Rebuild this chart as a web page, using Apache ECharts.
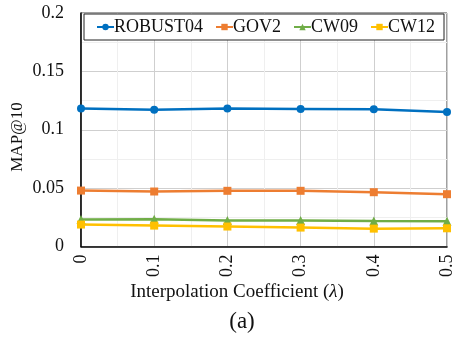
<!DOCTYPE html>
<html>
<head>
<meta charset="utf-8">
<script src="https://cdn.jsdelivr.net/npm/echarts@6/dist/echarts.min.js"></script>
<style>
html,body{margin:0;padding:0;background:#fff;}
#c{width:456px;height:339px;}
</style>
</head>
<body>
<div id="c"></div>
<script>
const lambdas = [0, 0.1, 0.2, 0.3, 0.4, 0.5];
const robust04 = [0.1181, 0.1172, 0.1181, 0.1178, 0.1175, 0.1153];
const gov2 = [0.0479, 0.0471, 0.0477, 0.0477, 0.0465, 0.0448];
const cw09 = [0.0231, 0.0234, 0.0223, 0.0223, 0.0219, 0.0217];
const cw12 = [0.0188, 0.0179, 0.0171, 0.0162, 0.0153, 0.0156];
const seriesNames = ['ROBUST04', 'GOV2', 'CW09', 'CW12'];
const colors = ['#0070C0', '#ED7D31', '#70AD47', '#FFC000'];
const symbols = ['circle', 'rect', 'triangle', 'rect'];
const yAxisTitle = 'MAP@10';
const xAxisTitleMain = 'Interpolation Coefficient (';
const xAxisTitleSym = '\u03BB';
const caption = '(a)';

const font = '"Liberation Serif", "Times New Roman", serif';
const allData = [robust04, gov2, cw09, cw12];

const chart = echarts.init(document.getElementById('c'), null, {renderer: 'canvas'});
chart.setOption({
  animation: false,
  backgroundColor: '#fff',
  textStyle: {fontFamily: font},
  grid: {left: 81, right: 8, top: 13, bottom: 92.5, show: true, borderColor: '#404040', borderWidth: 1, backgroundColor: 'transparent'},
  legend: {
    data: seriesNames,
    left: 84, top: 14,
    itemGap: 12,
    itemWidth: 17, itemHeight: 8,
    padding: [4, 9, 4, 12],
    borderColor: '#222', borderWidth: 1, backgroundColor: '#fff',
    textStyle: {fontFamily: font, fontSize: 18, color: '#111', padding: [0,0,0,-5]}
  },
  xAxis: {
    type: 'value', min: 0, max: 0.5, interval: 0.1,
    axisLine: {show: true, onZero: false, lineStyle: {color: '#000', width: 1.5}},
    axisTick: {show: false},
    axisLabel: {rotate: 90, margin: 8, fontFamily: font, fontSize: 18, color: '#111'},
    splitLine: {show: true, lineStyle: {color: '#cfcfcf', width: 1}},
    minorTick: {show: false, splitNumber: 2},
    minorSplitLine: {show: true, lineStyle: {color: '#efefef', width: 1}}
  },
  yAxis: {
    type: 'value', min: 0, max: 0.2, interval: 0.05,
    axisLine: {show: true, lineStyle: {color: '#000', width: 1.5}},
    axisTick: {show: false},
    axisLabel: {margin: 17, fontFamily: font, fontSize: 18, color: '#111'},
    splitLine: {show: true, lineStyle: {color: '#cfcfcf', width: 1}},
    minorTick: {show: false, splitNumber: 2},
    minorSplitLine: {show: true, lineStyle: {color: '#efefef', width: 1}}
  },
  graphic: [
    {type: 'text', x: 18, y: 137, rotation: Math.PI/2, style: {text: yAxisTitle, font: '17px ' + font, fill: '#111', align: 'center', verticalAlign: 'middle', x: 0, y: 0}},
    {type: 'text', x: 237, y: 292, style: {
      text: xAxisTitleMain + '{i|' + xAxisTitleSym + '})',
      font: '19px ' + font, fill: '#111', align: 'center', verticalAlign: 'middle', x: 0, y: 0,
      rich: {i: {fontStyle: 'italic', fontSize: 19, fontFamily: font, fill: '#111'}}
    }},
    {type: 'text', x: 242, y: 322, style: {text: caption, font: '23px ' + font, fill: '#111', align: 'center', verticalAlign: 'middle', x: 0, y: 0}}
  ],
  series: seriesNames.map((name, i) => ({
    name: name,
    type: 'line',
    data: lambdas.map((x, j) => [x, allData[i][j]]),
    symbol: symbols[i],
    symbolSize: symbols[i] === 'triangle' ? 9 : 8,
    showSymbol: true,
    lineStyle: {color: colors[i], width: 2.5},
    itemStyle: {color: colors[i]},
    clip: false
  }))
});
</script>
</body>
</html>
